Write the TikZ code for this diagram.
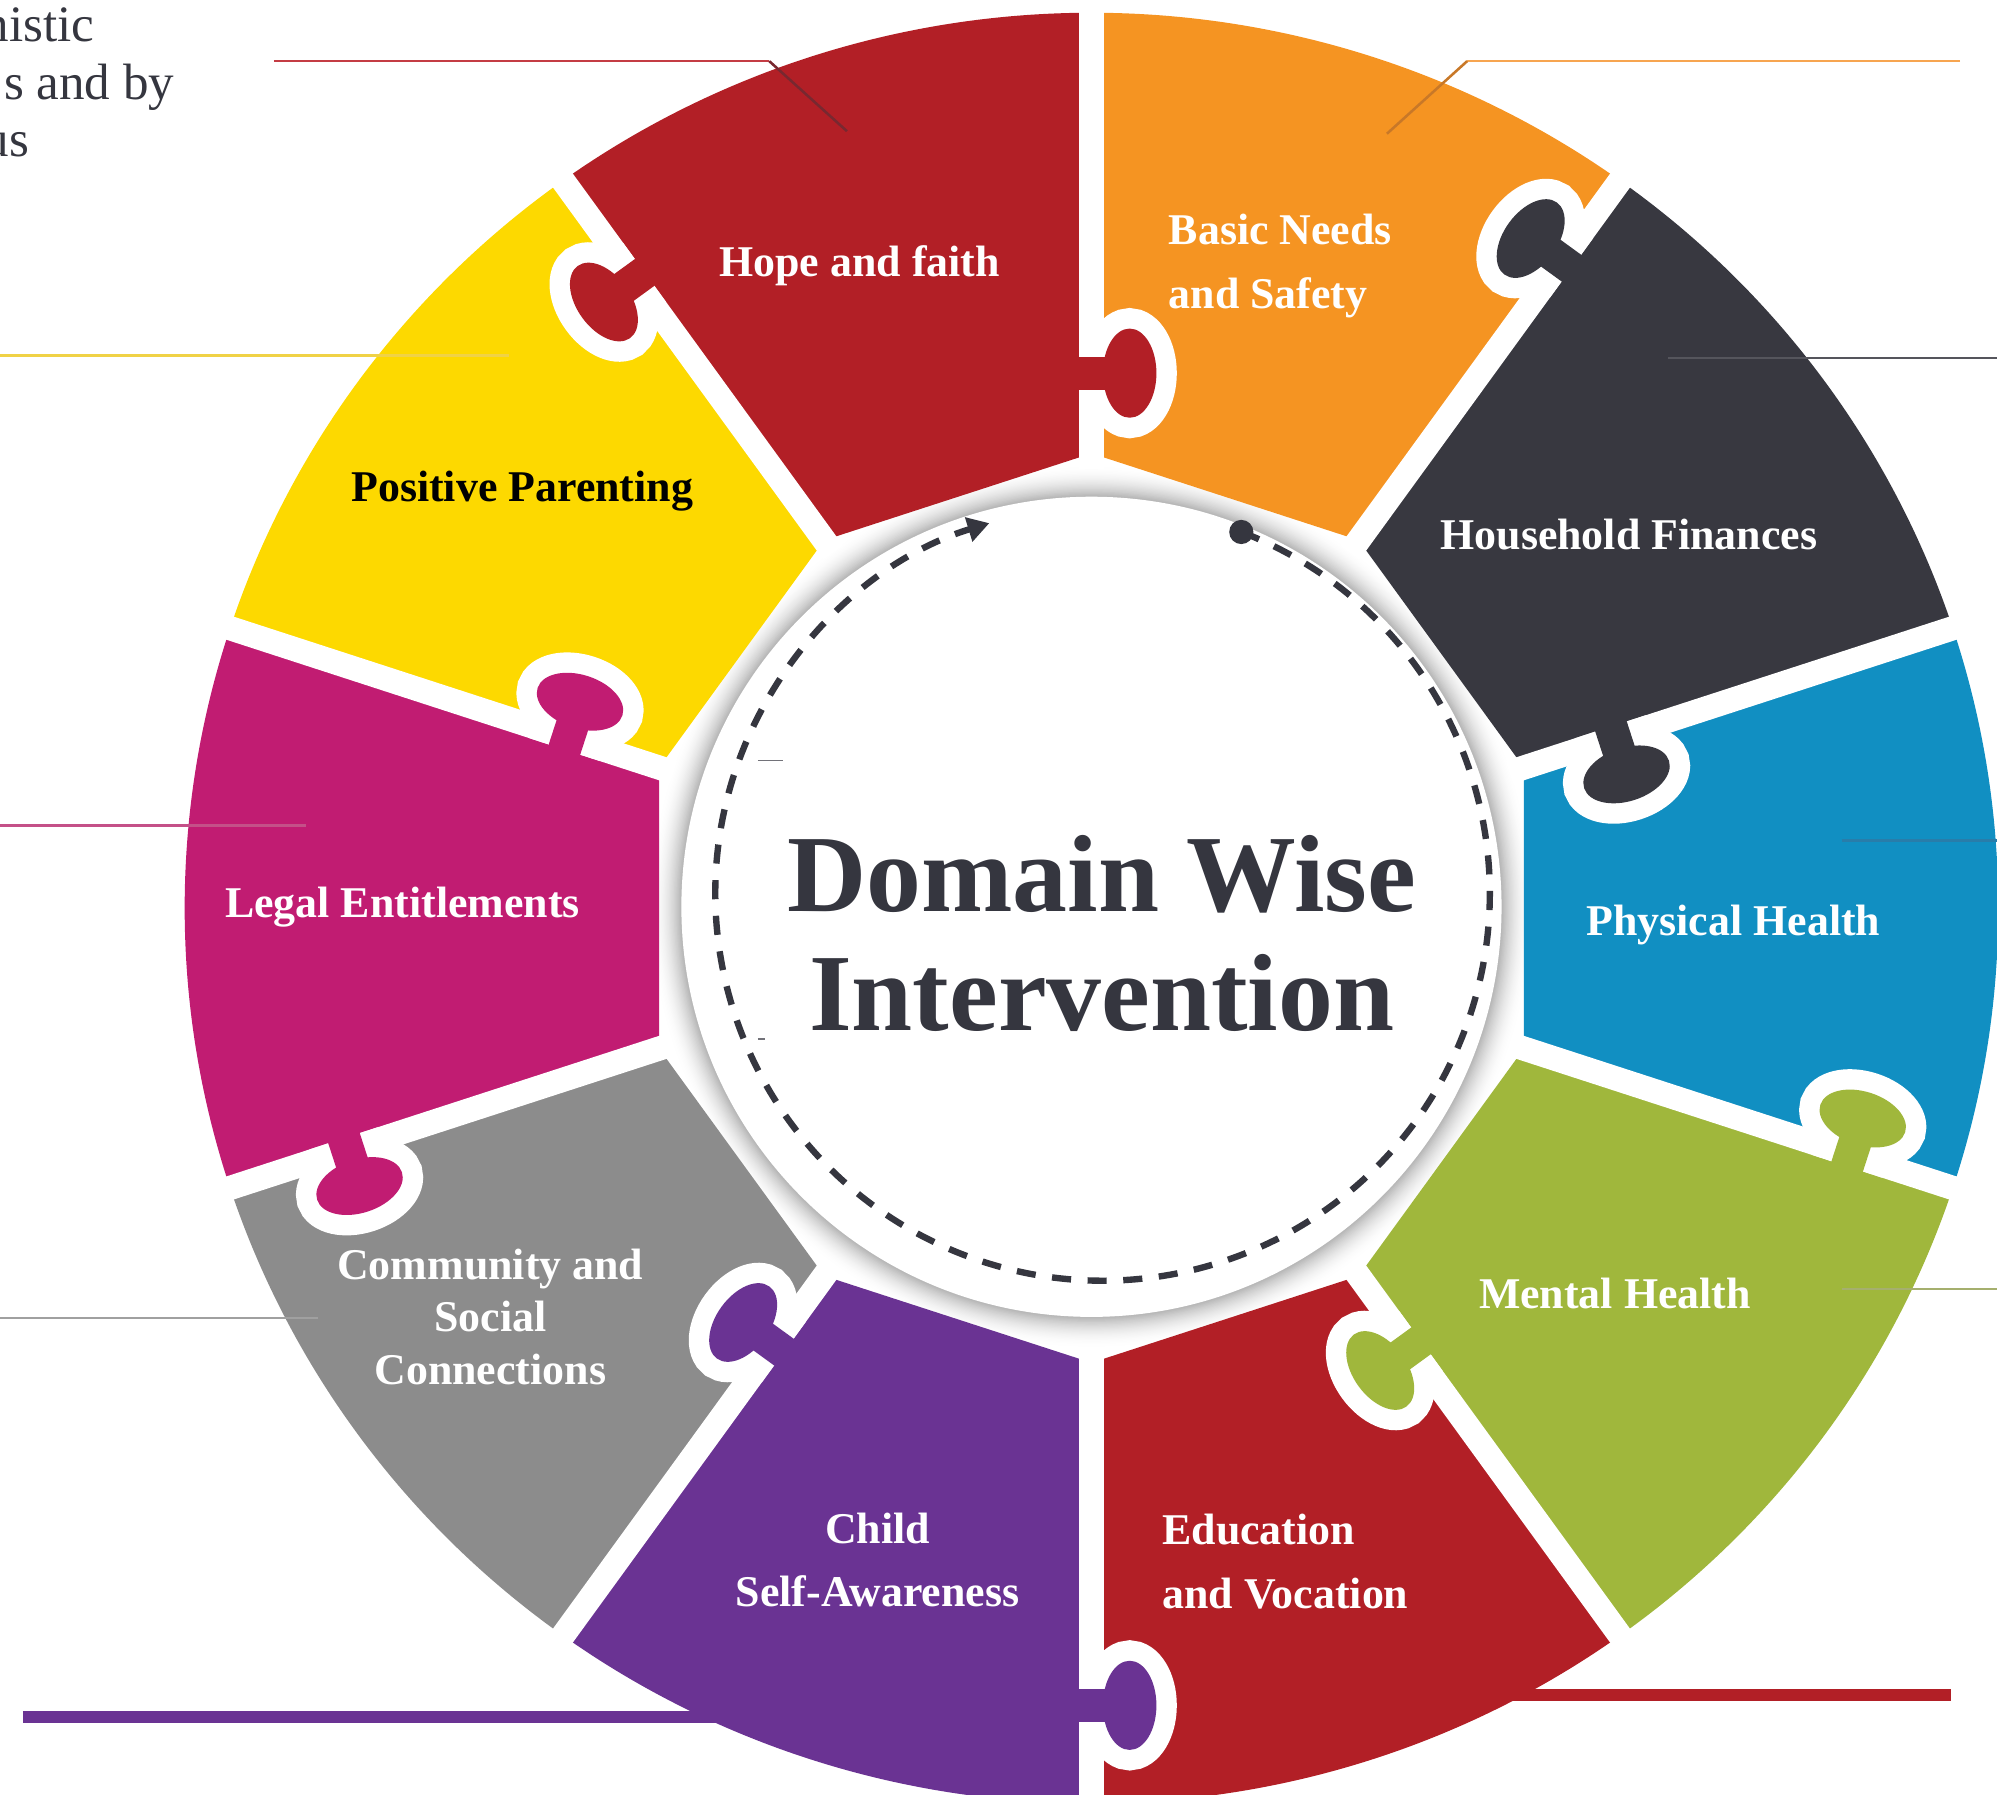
\documentclass[tikz,border=0pt]{standalone}
\usepackage{fontspec}
\setmainfont{Liberation Serif}
\usetikzlibrary{arrows.meta}
\definecolor{cRed}{HTML}{B21F26}
\definecolor{cOrange}{HTML}{F59422}
\definecolor{cDark}{HTML}{383840}
\definecolor{cBlue}{HTML}{118FC2}
\definecolor{cGreen}{HTML}{A0B73C}
\definecolor{cPurple}{HTML}{6A3393}
\definecolor{cGray}{HTML}{8C8C8C}
\definecolor{cMag}{HTML}{C11C72}
\definecolor{cYellow}{HTML}{FDD900}
\definecolor{cTitle}{HTML}{35363F}
\newcommand{\pzseg}[3]{%
  \fill[#3] (#1:357) -- ({712*cos(#1)},{703*sin(#1)})
    arc[start angle=#1, end angle=#2, x radius=712, y radius=703] -- (#2:357) -- cycle;}
\newcommand{\pzknob}[4]{%
  \begin{scope}[shift={(#1:#2)}, rotate=#1, yscale=#3]
    \begin{scope}
      \clip (-95,-9.5) rectangle (95,110);
      \filldraw[white, line width=0.32cm, line join=round] (-13,-30) rectangle (13,15);
      \filldraw[white, line width=0.32cm] (0,30) ellipse [x radius=35, y radius=21];
    \end{scope}
    \fill[#4] (-13,-14) rectangle (13,16);
    \fill[#4] (0,30) ellipse [x radius=35, y radius=21];
  \end{scope}}
\begin{document}
\begin{tikzpicture}[x=0.01cm, y=0.01cm,
  lbl/.style={text=white, font=\fontsize{9.8}{14.2}\selectfont\bfseries, inner sep=0pt},
  side/.style={text=cTitle, font=\fontsize{11.4}{12}\selectfont, inner sep=0pt},
  leader/.style={line width=0.02cm},
  band/.style={line width=0.09cm},
  dashline/.style={cTitle, line width=0.05cm, dash pattern=on 0.15cm off 0.13cm}]
\useasboundingbox (0,0) rectangle (1568,-1409);
% side texts (cropped at the left edge, as in the source)
\node[side, anchor=base east] (t1) at (74.6,-32.7) {nistic};
\node[side, anchor=base east] (t2) at (137.5,-78.5) {s and by};
\node[side, anchor=base east] (t3) at (23.6,-123) {us};
% thick bands
\coordinate (pb1) at (18,-1348); \coordinate (pb2) at (600,-1348);
\draw[band, cPurple] (pb1) -- (pb2);
\coordinate (rb1) at (1160,-1331); \coordinate (rb2) at (1532,-1331);
\draw[band, cRed] (rb1) -- (rb2);
% ring
\begin{scope}[shift={(857,-713)}]
  \foreach \i in {0,...,24}{%
    \pgfmathsetmacro\rr{347-\i}%
    \pgfmathsetmacro\kk{(\i/24)^2*28}%
    \fill[black!\kk] (0,1) circle (\rr);}
  \pzseg{54}{90}{cOrange}
  \pzseg{90}{126}{cRed}
  \pzseg{126}{162}{cYellow}
  \pzseg{162}{198}{cMag}
  \pzseg{198}{234}{cGray}
  \pzseg{234}{270}{cPurple}
  \pzseg{270}{306}{cRed}
  \pzseg{306}{342}{cGreen}
  \pzseg{-18}{18}{cBlue}
  \pzseg{18}{54}{cDark}
  \foreach \a in {18,54,...,342}
    \draw[white, line width=0.19cm] (\a:345) -- (\a:740);
  \pzknob{90}{420}{-1}{cRed}
  \pzknob{54}{628}{1}{cDark}
  \pzknob{18}{432}{-1}{cDark}
  \pzknob{-18}{627}{1}{cGreen}
  \pzknob{-54}{427}{-1}{cGreen}
  \pzknob{-90}{626}{1}{cPurple}
  \pzknob{-126}{424}{-1}{cPurple}
  \pzknob{-162}{614}{1}{cMag}
  \pzknob{162}{432}{-1}{cMag}
  \pzknob{126}{610}{1}{cRed}
  \fill[white] (0,1) circle (322);
\end{scope}
% leader lines
\coordinate (r1) at (215,-48); \coordinate (r2) at (604,-48); \coordinate (r3) at (665,-103);
\draw[leader, color={rgb,255:red,196;green,60;blue,68}] (r1) -- (r2);
\draw[leader, color={rgb,255:red,120;green,40;blue,48}] (r2) -- (r3);
\coordinate (o1) at (1539,-48); \coordinate (o2) at (1152,-48); \coordinate (o3) at (1089,-105);
\draw[leader, color={rgb,255:red,247;green,165;blue,80}] (o1) -- (o2);
\draw[leader, color={rgb,255:red,200;green,120;blue,40}] (o2) -- (o3);
\coordinate (y1) at (0,-279); \coordinate (y2) at (400,-279);
\draw[leader, line width=0.025cm, color={rgb,255:red,240;green,210;blue,70}] (y1) -- (y2);
\coordinate (d1) at (1310,-281); \coordinate (d2) at (1568,-281);
\draw[leader, color={rgb,255:red,85;green,85;blue,92}] (d1) -- (d2);
\coordinate (m1) at (0,-648); \coordinate (m2) at (240,-648);
\draw[leader, color={rgb,255:red,196;green,80;blue,136}] (m1) -- (m2);
\coordinate (b1) at (1446,-660); \coordinate (b2) at (1568,-660);
\draw[leader, color={rgb,255:red,40;green,125;blue,170}] (b1) -- (b2);
\coordinate (g1) at (0,-1035); \coordinate (g2) at (250,-1035);
\draw[leader, color={rgb,255:red,160;green,160;blue,160}] (g1) -- (g2);
\coordinate (e1) at (1446,-1012); \coordinate (e2) at (1568,-1012);
\draw[leader, color={rgb,255:red,165;green,175;blue,110}] (e1) -- (e2);
% tiny marks
\coordinate (k1) at (595,-597); \coordinate (k2) at (615,-597);
\draw[line width=0.012cm, cTitle!70] (k1) -- (k2);
\coordinate (k3) at (595,-816); \coordinate (k4) at (601,-816);
\draw[line width=0.012cm, cTitle!70] (k3) -- (k4);
% dashed circle
\begin{scope}[shift={(865.7,-701.5)}]
  \coordinate (ds) at (69:304);
  \draw[dashline, -{Triangle[length=0.17cm, width=0.19cm]}] (ds) arc[start angle=69, end angle=-253, radius=304];
  \fill[cTitle] (ds) circle (9.5);
\end{scope}
% title
\node[text=cTitle, font=\fontsize{24.5}{26.6}\selectfont\bfseries, align=center, inner sep=0pt]
  (title) at (865,-733) {Domain Wise\\Intervention};
% labels
\node[lbl] (hope) at (675,-209) {Hope and faith};
\node[lbl, anchor=west, align=left] (basic) at (917,-209) {Basic Needs\\and Safety};
\node[lbl] (house) at (1279,-420) {Household Finances};
\node[lbl] (phys) at (1361,-726) {Physical Health};
\node[lbl] (ment) at (1268,-1016) {Mental Health};
\node[lbl, anchor=west, align=left] (edu) at (912,-1226) {Education\\and Vocation};
\node[lbl, align=center] (child) at (689,-1225) {Child\\Self-Awareness};
\node[lbl, align=center, font=\fontsize{9.8}{11.8}\selectfont\bfseries] (comm) at (385,-1034) {Community and\\Social\\Connections};
\node[lbl] (legal) at (316,-712) {Legal Entitlements};
\node[lbl, text=black] (parent) at (410,-386) {Positive Parenting};
\end{tikzpicture}
\end{document}
